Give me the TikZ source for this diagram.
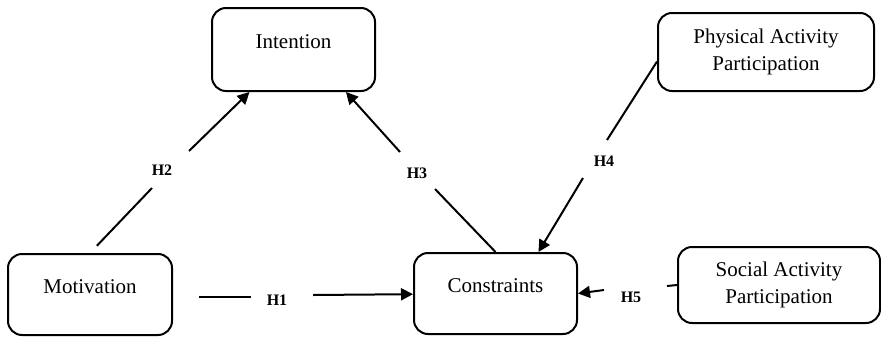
\documentclass[tikz,border=0pt]{standalone}
\usepackage{fontspec}
\setmainfont{Liberation Serif}
\usetikzlibrary{arrows.meta}

\begin{document}
\begin{tikzpicture}[x=0.5pt, y=-0.5pt, line width=1pt,
    box/.style={draw, rounded corners=7pt, align=center, font=\fontsize{10.5}{13.5}\selectfont},
    oneline/.style={text height=7pt, text depth=8.5pt},
    hyp/.style={font=\fontsize{8}{9}\selectfont\bfseries, inner sep=0pt},
    arr/.style={-{Triangle[length=6pt,width=6pt]}}]

    \useasboundingbox (0,0) rectangle (881,337);

    \node[box, oneline, minimum width=81.5pt, minimum height=41.5pt] (int) at (293.5,49.5) {Intention};
    \node[box, minimum width=108pt, minimum height=39pt] (phys) at (766,52) {Physical Activity\\Participation};
    \node[box, oneline, minimum width=82pt, minimum height=40.5pt] (mot) at (90,294.5) {Motivation};
    \node[box, oneline, minimum width=81.5pt, minimum height=40.5pt] (con) at (495.5,293.5) {Constraints};
    \node[box, minimum width=101pt, minimum height=38pt] (soc) at (779,285) {Social Activity\\Participation};

    \foreach \n/\x/\y in {1/277/300, 2/162/170, 3/417/173, 4/604/161, 5/631/297}{
            \node[hyp] (H\n) at (\x,\y) {H\n};
        }

    \coordinate (h1a) at (251,297);
    \coordinate (h1b) at (313,295);
    \coordinate (h2a) at (152,188);
    \coordinate (h2b) at (189,151);
    \coordinate (h3a) at (435,189);
    \coordinate (h3b) at (400,152);
    \coordinate (h4a) at (607,140);
    \coordinate (h4b) at (583,178);
    \coordinate (h5a) at (667,286);
    \coordinate (h5b) at (604,290);

    \draw[shorten <=13pt] (mot.east |- h1a) -- (h1a);
    \draw[arr] (h1b) -- (con);

    \draw[shorten <=5pt] (mot.north) -- (h2a);
    \draw[arr] (h2b) -- (int.-136);

    \draw (con.north) -- (h3a);
    \draw[arr] (h3b) -- (int.-39);

    \draw (phys.185) -- (h4a);
    \draw[arr] (h4b) -- (con.44);

    \draw (soc.west) -- (h5a);
    \draw[arr] (h5b) -- (con.east);

\end{tikzpicture}
\end{document}
